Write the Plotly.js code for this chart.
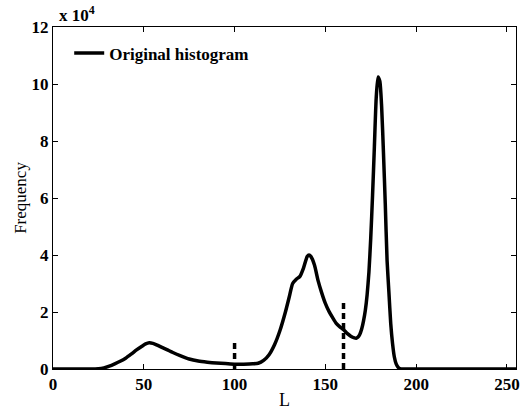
<!DOCTYPE html>
<html>
<head>
<meta charset="utf-8">
<script src="https://cdn.plot.ly/plotly-3.0.1.min.js"></script>
<style>html,body{margin:0;padding:0;background:#fff;}#chart{width:522px;height:410px;}</style>
</head>
<body>
<div id="chart"></div>
<script>
// Intensity levels L and histogram frequency
const levels = [0,10,20,25,28,31,34,37,40,43,46,49,51,53,55,57,60,63,66,70,75,80,85,90,95,100,105,110,113,116,119,122,125,128,130,132,134,136,138,140,141,142,144,146,148,150,152,154,156,158,160,162,164,166,167,168,169,170,171,172,173,174,175,176,177,178,179,180,181,182,183,184,185,186,187,188,189,190,191,193,196,200,220,240,255];
const frequency = [0,0,0,100,400,1000,1800,2700,3800,5200,6700,8000,8800,9200,9000,8500,7600,6700,5800,4700,3500,2800,2400,2100,1900,1700,1700,1800,2000,3000,5000,8500,13500,20000,25000,30000,31500,32500,35500,39500,40000,39500,36500,31000,26700,23000,20200,18000,16000,14800,13800,12500,11500,10900,10800,11200,12200,14000,16800,20500,26000,34000,46000,61000,78000,95000,102500,101000,92000,76000,58000,38000,27000,16000,9000,4200,1800,700,150,0,0,0,0,0,0];
// Threshold markers (dashed)
const thresholds = [100, 160];
const thresholdHeights = [9700, 23300];
const yTickVals = [0,20000,40000,60000,80000,100000,120000];
const yTickText = ['0','2','4','6','8','10','12'];
const xTickVals = [0,50,100,150,200,250];

const font = 'Liberation Serif, Times New Roman, serif';

const traces = [{
  x: levels, y: frequency, type: 'scatter', mode: 'lines',
  name: 'Original histogram',
  line: {color: '#000', width: 3.5, shape: 'spline', smoothing: 0.6},
  showlegend: true
}];
thresholds.forEach((t, i) => {
  traces.push({
    x: [t, t], y: [0, thresholdHeights[i]], type: 'scatter', mode: 'lines',
    line: {color: '#000', width: 3.5, dash: '6px,4px'}, showlegend: false
  });
});

const layout = {
  width: 522, height: 410,
  margin: {l: 53, r: 6, t: 27, b: 41},
  paper_bgcolor: '#fff', plot_bgcolor: '#fff',
  font: {family: font, color: '#000', size: 17},
  showlegend: true,
  legend: {x: 0.035, y: 0.975, xanchor: 'left', yanchor: 'top', bgcolor: 'rgba(0,0,0,0)',
           font: {family: font, size: 17, weight: 'bold'}, borderwidth: 0, itemwidth: 30},
  xaxis: {
    range: [0, 255], tickvals: xTickVals, ticks: 'inside', ticklen: 5, tickcolor: '#000',
    showline: true, linecolor: '#000', linewidth: 1, mirror: 'ticks', showgrid: false, zeroline: false,
    tickfont: {family: font, size: 17, weight: 'bold'},
    title: {text: 'L', font: {family: font, size: 18}, standoff: 0}
  },
  yaxis: {
    range: [0, 120000], tickvals: yTickVals, ticktext: yTickText, ticks: 'inside', ticklen: 5, tickcolor: '#000',
    showline: true, linecolor: '#000', linewidth: 1, mirror: 'ticks', showgrid: false, zeroline: false,
    tickfont: {family: font, size: 17, weight: 'bold'},
    title: {text: 'Frequency', font: {family: font, size: 17}, standoff: 0}
  },
  annotations: [{
    xref: 'paper', yref: 'paper', x: 0.008, y: 1.0, xanchor: 'left', yanchor: 'bottom',
    text: 'x 10<sup>4</sup>', showarrow: false, font: {family: font, size: 17, weight: 'bold'}
  }]
};

Plotly.newPlot('chart', traces, layout, {displayModeBar: false, staticPlot: true});
</script>
</body>
</html>
